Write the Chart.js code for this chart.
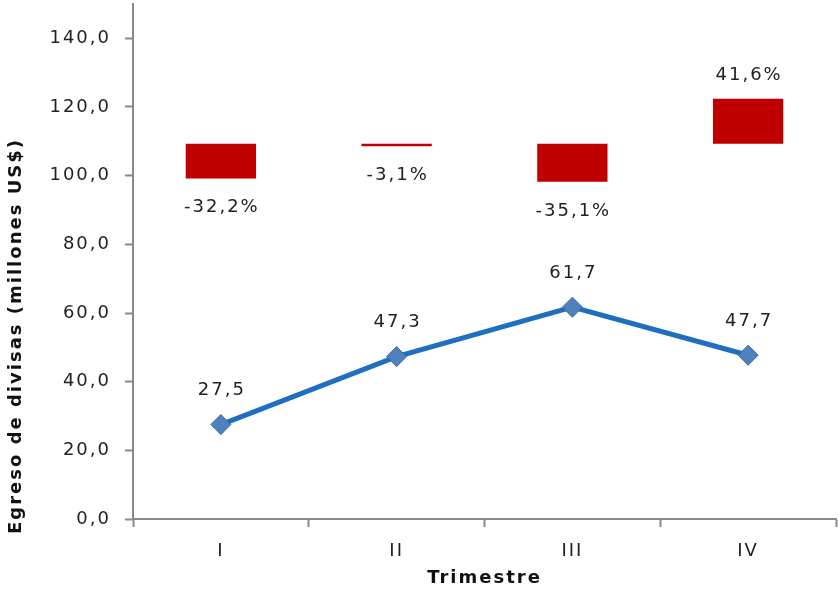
<!DOCTYPE html>
<html>
<head>
<meta charset="utf-8">
<script src="https://cdn.jsdelivr.net/npm/chart.js@4"></script>
<style>
    html, body { margin: 0; padding: 0; background: #ffffff; }
    #wrap { width: 839px; height: 593px; }
</style>
</head>
<body>
<div id="wrap"><canvas id="chart" width="839" height="593"></canvas></div>
<script>
// Data
const trimestres = ['I', 'II', 'III', 'IV'];
const egreso = [27.5, 47.3, 61.7, 47.7];
const variacion = ['-32,2%', '-3,1%', '-35,1%', '41,6%'];
// floating bars: [start, end] in axis units
const barrasVariacion = [[109.3, 99.2], [109.3, 108.6], [109.3, 98.2], [109.3, 122.4]];
const yTicks = [0, 20, 40, 60, 80, 100, 120, 140];
const yTitle = 'Egreso de divisas (millones US$)';

const FONT = 'DejaVu Sans, Verdana, sans-serif';

function fmt(v) {
    return v.toFixed(1).replace('.', ',');
}

// Verdana-like wide spacing for all text
const spacingPlugin = {
    id: 'spacing',
    beforeLayout(chart) { chart.ctx.letterSpacing = '2px'; },
    beforeDraw(chart) { chart.ctx.letterSpacing = '2px'; }
};

// Y title sits lower than the centre of the plot in the original
const yTitlePlugin = {
    id: 'yTitle',
    afterDraw(chart) {
        const ctx = chart.ctx;
        ctx.save();
        ctx.font = 'bold 18px ' + FONT;
        ctx.fillStyle = '#111111';
        ctx.textAlign = 'center';
        ctx.textBaseline = 'middle';
        ctx.translate(16, 336);
        ctx.rotate(-Math.PI / 2);
        ctx.fillText(yTitle, 0, 0);
        ctx.restore();
    }
};

// Draws value labels for both series
const labelsPlugin = {
    id: 'valueLabels',
    afterDatasetsDraw(chart) {
        const ctx = chart.ctx;
        ctx.save();
        ctx.font = '18px ' + FONT;
        ctx.fillStyle = '#222222';
        ctx.textAlign = 'center';
        ctx.textBaseline = 'middle';

        // bars
        chart.getDatasetMeta(0).data.forEach((bar, i) => {
            const r = barrasVariacion[i];
            const yTop = Math.min(bar.y, bar.base);
            const yBot = Math.max(bar.y, bar.base);
            if (r[1] < r[0]) {
                ctx.fillText(variacion[i], bar.x + 1, yBot + 29);
            } else {
                ctx.fillText(variacion[i], bar.x + 1, yTop - 23);
            }
        });

        // line points
        chart.getDatasetMeta(1).data.forEach((pt, i) => {
            ctx.fillText(fmt(egreso[i]), pt.x + 1, pt.y - 34);
        });
        ctx.restore();
    }
};

const ctx = document.getElementById('chart').getContext('2d');
new Chart(ctx, {
    type: 'bar',
    data: {
        labels: trimestres,
        datasets: [{
            type: 'bar',
            label: 'Variación',
            data: barrasVariacion,
            backgroundColor: '#C00000',
            borderWidth: 0,
            barPercentage: 0.4,
            categoryPercentage: 1,
            order: 2
        }, {
            type: 'line',
            label: 'Egreso',
            data: egreso,
            borderColor: '#1F6FC0',
            borderWidth: 5,
            pointStyle: 'rectRot',
            pointRadius: 10,
            pointBackgroundColor: '#4F81BD',
            pointBorderColor: '#3565A3',
            pointBorderWidth: 1,
            tension: 0,
            order: 1
        }]
    },
    options: {
        responsive: false,
        animation: false,
        layout: {
            autoPadding: false,
            padding: { top: 4, right: 3, left: 0, bottom: 0 }
        },
        plugins: {
            legend: { display: false },
            tooltip: { enabled: false }
        },
        scales: {
            x: {
                offset: true,
                grid: {
                    offset: true,
                    drawOnChartArea: false,
                    drawTicks: true,
                    tickLength: 8,
                    tickWidth: 2,
                    color: '#888888'
                },
                border: { color: '#888888', width: 2 },
                ticks: {
                    color: '#222222',
                    font: { family: FONT, size: 18 },
                    padding: 14
                },
                title: {
                    display: true,
                    text: 'Trimestre',
                    color: '#111111',
                    font: { family: FONT, size: 18, weight: 'bold' },
                    padding: { top: 10 }
                },
                afterFit(scale) {
                    scale.height = 74;
                    scale.paddingLeft = 0;
                    scale.paddingRight = 0;
                }
            },
            y: {
                min: 0,
                max: 150,
                afterBuildTicks(scale) {
                    scale.ticks = yTicks.map(v => ({ value: v }));
                },
                grid: {
                    drawOnChartArea: false,
                    drawTicks: true,
                    tickLength: 8,
                    tickWidth: 2,
                    color: '#888888'
                },
                border: { color: '#888888', width: 2 },
                ticks: {
                    color: '#222222',
                    font: { family: FONT, size: 18 },
                    padding: 14,
                    callback: v => fmt(v)
                },
                title: { display: false },
                afterFit(scale) {
                    scale.width = 133;
                    scale.paddingTop = 0;
                    scale.paddingBottom = 0;
                }
            }
        }
    },
    plugins: [spacingPlugin, labelsPlugin, yTitlePlugin]
});
</script>
</body>
</html>
